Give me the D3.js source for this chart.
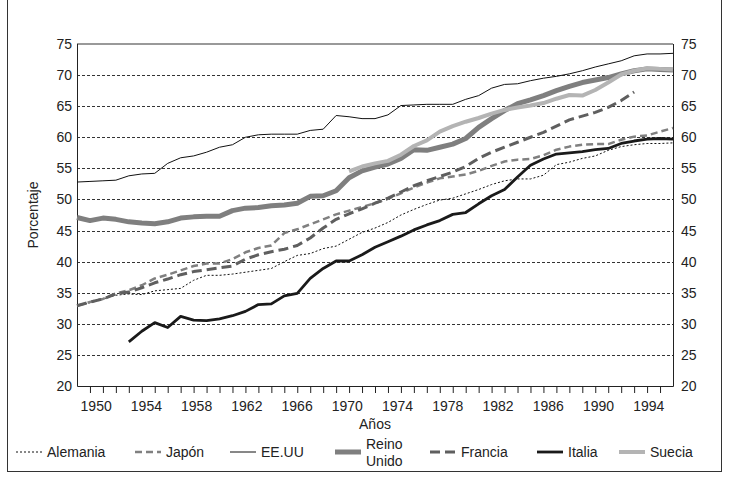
<!DOCTYPE html>
<html>
<head>
<meta charset="utf-8">
<script src="https://cdn.jsdelivr.net/npm/d3@7"></script>
<style>
  body { margin: 0; background: #fff; }
  svg text { font-family: "Liberation Sans", Arial, sans-serif; fill: #222; }
</style>
</head>
<body>
<div id="chart"></div>
<script>
// Settings
const SIZE = [729, 483]
const MARGIN = {top: 44, right: 56, bottom: 97, left: 77}
const FONT = "Liberation Sans, Arial, sans-serif"

// Data
const years = d3.range(1948, 1995)
const yTicks = [20, 25, 30, 35, 40, 45, 50, 55, 60, 65, 70, 75]
const yearLabels = [1950, 1954, 1958, 1962, 1966, 1970, 1974, 1978, 1982, 1986, 1990, 1994]

const alemania = [32.9, 33.4, 34.0, 34.6, 34.8, 34.7, 35.3, 35.5, 35.7, 37.0,
  37.8, 37.8, 38.0, 38.3, 38.6, 38.9, 40.0, 41.0, 41.3, 42.1,
  42.5, 43.6, 44.7, 45.4, 46.3, 47.5, 48.4, 49.2, 49.9, 50.2,
  50.9, 51.6, 52.4, 53.0, 53.3, 53.3, 53.9, 55.6, 56.0, 56.6,
  57.0, 57.9, 58.5, 58.8, 59.0, 59.0, 59.1]
const japon = [32.9, 33.5, 34.0, 34.9, 35.4, 36.2, 37.3, 37.9, 38.6, 39.3,
  39.7, 39.7, 40.4, 41.5, 42.2, 42.6, 44.6, 45.2, 46.0, 46.8,
  47.6, 48.2, 48.8, 49.4, 50.1, 51.0, 51.9, 52.7, 53.4, 53.7,
  54.0, 54.6, 55.4, 56.1, 56.4, 56.5, 57.1, 58.0, 58.5, 58.8,
  58.9, 58.9, 59.6, 60.1, 60.3, 60.9, 61.5]
const eeuu = [52.8, 52.9, 53.0, 53.1, 53.8, 54.1, 54.2, 55.8, 56.7, 57.0,
  57.6, 58.4, 58.8, 60.0, 60.4, 60.5, 60.5, 60.5, 61.1, 61.3,
  63.5, 63.3, 63.0, 63.0, 63.6, 65.1, 65.2, 65.3, 65.3, 65.3,
  66.1, 66.7, 67.9, 68.5, 68.6, 69.1, 69.5, 69.8, 70.2, 70.7,
  71.3, 71.8, 72.3, 73.1, 73.4, 73.4, 73.5]
const reinoUnido = [47.1, 46.6, 47.0, 46.8, 46.4, 46.2, 46.1, 46.4, 47.0, 47.2,
  47.3, 47.3, 48.2, 48.6, 48.7, 49.0, 49.1, 49.4, 50.5, 50.6,
  51.4, 53.5, 54.6, 55.2, 55.7, 56.6, 58.0, 57.9, 58.4, 58.9,
  59.8, 61.6, 63.0, 64.3, 65.4, 66.0, 66.7, 67.5, 68.2, 68.8,
  69.2, 69.6, 70.2, 70.7, 71.0, 70.9, 70.8]
const francia = [32.9, 33.5, 34.0, 34.8, 35.1, 35.8, 36.6, 37.2, 37.9, 38.4,
  38.7, 39.0, 39.3, 40.4, 41.1, 41.6, 42.0, 42.6, 43.8, 45.4,
  46.8, 47.7, 48.5, 49.4, 50.2, 51.2, 52.2, 53.0, 53.7, 54.4,
  55.3, 56.6, 57.6, 58.4, 59.2, 60.0, 60.8, 61.8, 62.8, 63.4,
  64.0, 64.8, 65.9, 67.3, null, null, null]
const italia = [null, null, null, null, 27.1, 28.8, 30.2, 29.4, 31.2, 30.6,
  30.5, 30.8, 31.3, 32.0, 33.1, 33.2, 34.5, 34.9, 37.3, 38.9,
  40.1, 40.1, 41.1, 42.3, 43.2, 44.1, 45.1, 45.9, 46.6, 47.6,
  47.9, 49.3, 50.6, 51.6, 53.6, 55.5, 56.5, 57.3, 57.5, 57.7,
  58.0, 58.2, 59.0, 59.4, 59.7, 59.8, 59.7]
const suecia = [null, null, null, null, null, null, null, null, null, null,
  null, null, null, null, null, null, null, null, null, null,
  null, 54.5, 55.3, 55.8, 56.2, 57.2, 58.6, 59.5, 60.9, 61.8,
  62.5, 63.1, 63.8, 64.4, 64.8, 65.1, 65.5, 66.2, 66.8, 66.7,
  67.6, 68.8, 70.1, 70.7, 71.1, 71.0, 70.9]

// Styles, in legend order (last drawn ends up on top)
const series = [
  {name: ["Alemania"], values: alemania, stroke: "#111", width: 1, dash: "2,2", legendX: 16},
  {name: ["Japón"], values: japon, stroke: "#808080", width: 2.5, dash: "7,4", legendX: 135},
  {name: ["EE.UU"], values: eeuu, stroke: "#111", width: 1, dash: null, legendX: 230},
  {name: ["Reino", "Unido"], values: reinoUnido, stroke: "#7f7f7f", width: 5, dash: null, legendX: 335},
  {name: ["Francia"], values: francia, stroke: "#5f5f5f", width: 3, dash: "10,5", legendX: 430},
  {name: ["Italia"], values: italia, stroke: "#1a1a1a", width: 2.8, dash: null, legendX: 537},
  {name: ["Suecia"], values: suecia, stroke: "#b4b4b4", width: 4, dash: null, legendX: 619}
]

const plotLeft = MARGIN.left
const plotRight = SIZE[0] - MARGIN.right
const plotTop = MARGIN.top
const plotBottom = SIZE[1] - MARGIN.bottom

const svg = d3.select("#chart").append("svg")
  .attr("width", SIZE[0])
  .attr("height", SIZE[1])

// outer frame of the figure
svg.append("rect")
  .attr("x", 7.5).attr("y", -1)
  .attr("width", 714).attr("height", 472.5)
  .attr("fill", "none")
  .attr("stroke", "#333")

const x = d3.scaleLinear()
  .domain([years[0], years[years.length - 1]])
  .range([plotLeft, plotRight])

const y = d3.scaleLinear()
  .domain([20, 75])
  .range([plotBottom, plotTop])

// the printed year labels do not sit on the category grid in the original,
// so they get their own scale
const xLabel = d3.scaleLinear()
  .domain([yearLabels[0], yearLabels[yearLabels.length - 1]])
  .range([x(1949.44), x(1992.09)])

// grid
svg.append("g")
    .attr("stroke", "#333")
    .attr("stroke-width", 1)
    .attr("stroke-dasharray", "3,2")
  .selectAll("line")
  .data(yTicks.filter(d => d > 20 && d < 75))
  .join("line")
    .attr("x1", plotLeft).attr("x2", plotRight)
    .attr("y1", d => Math.round(y(d)) + 0.5)
    .attr("y2", d => Math.round(y(d)) + 0.5)

// y axes (both sides)
svg.append("g")
  .attr("transform", `translate(${plotLeft},0)`)
  .call(d3.axisLeft(y).tickValues(yTicks).tickSize(0).tickPadding(5))
  .call(g => g.select(".domain").remove())
  .attr("font-size", 14).attr("font-family", FONT)

svg.append("g")
  .attr("transform", `translate(${plotRight},0)`)
  .call(d3.axisRight(y).tickValues(yTicks).tickSize(0).tickPadding(8))
  .call(g => g.select(".domain").remove())
  .attr("font-size", 14).attr("font-family", FONT)

// x tick marks, one per year
svg.append("g")
  .attr("transform", `translate(0,${plotBottom})`)
  .call(d3.axisBottom(x).tickValues(years.slice(1, -1)).tickSize(7).tickFormat(""))
  .call(g => g.select(".domain").remove())
  .attr("color", "#222")

// x year labels
svg.append("g")
  .attr("transform", `translate(0,${plotBottom})`)
  .call(d3.axisBottom(xLabel).tickValues(yearLabels).tickFormat(d3.format("d")).tickSize(0).tickPadding(15))
  .call(g => g.select(".domain").remove())
  .attr("font-size", 14).attr("font-family", FONT)

// plot frame
svg.append("line")
  .attr("x1", plotLeft).attr("x2", plotRight).attr("y1", plotTop).attr("y2", plotTop)
  .attr("stroke", "#777").attr("stroke-width", 1.5)
svg.append("path")
  .attr("d", `M${plotLeft + 0.5},${plotTop}V${plotBottom + 0.5}H${plotRight + 0.5}V${plotTop}`)
  .attr("fill", "none").attr("stroke", "#222")

// axis titles
svg.append("text")
  .attr("x", (plotLeft + plotRight) / 2).attr("y", 429)
  .attr("text-anchor", "middle")
  .attr("font-size", 14)
  .text("Años")

svg.append("text")
  .attr("transform", `translate(38,${(plotTop + plotBottom) / 2}) rotate(-90)`)
  .attr("text-anchor", "middle")
  .attr("font-size", 14)
  .text("Porcentaje")

// lines
const line = d3.line()
  .defined(d => d[1] != null)
  .x(d => x(d[0]))
  .y(d => y(d[1]))

svg.append("g")
    .attr("fill", "none")
    .attr("stroke-linejoin", "round")
  .selectAll("path")
  .data(series)
  .join("path")
    .attr("d", s => line(years.map((yr, i) => [yr, s.values[i]])))
    .attr("stroke", s => s.stroke)
    .attr("stroke-width", s => s.width)
    .attr("stroke-dasharray", s => s.dash)

// legend
const LEGEND_Y = 452
const legend = svg.append("g")
  .selectAll("g")
  .data(series)
  .join("g")
    .attr("transform", s => `translate(${s.legendX},${LEGEND_Y})`)

legend.append("line")
  .attr("x1", 0).attr("x2", 26)
  .attr("stroke", s => s.stroke)
  .attr("stroke-width", s => s.width)
  .attr("stroke-dasharray", s => s.dash)

legend.append("text")
  .attr("font-size", 14)
  .selectAll("tspan")
  .data(s => s.name.map((t, i, a) => ({t, i, n: a.length})))
  .join("tspan")
    .attr("x", 31)
    .attr("y", d => d.n === 1 ? 5 : -3 + d.i * 17)
    .text(d => d.t)
</script>
</body>
</html>
